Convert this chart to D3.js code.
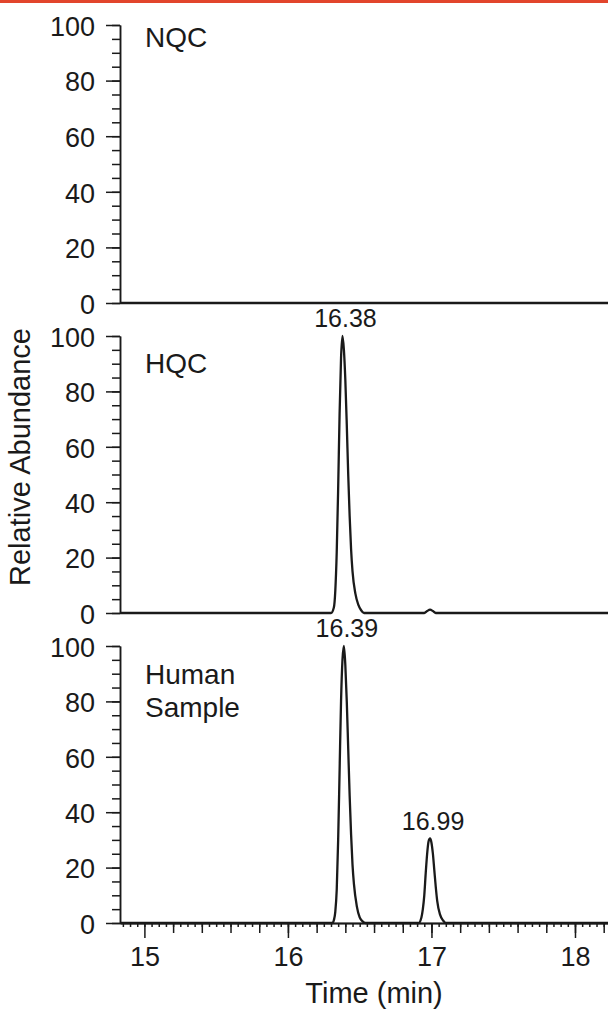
<!DOCTYPE html>
<html>
<head>
<meta charset="utf-8">
<script src="https://cdn.jsdelivr.net/npm/d3@7"></script>
<style>
  body { margin: 0; background: #fff; }
  text { font-family: "Liberation Sans", Arial, sans-serif; fill: #1a1a1a; }
</style>
</head>
<body>
<div id="chart"></div>
<script>
let w = 608;
let h = 1009;

// chromatogram traces: [time (min), relative abundance]
let nqcTrace = [[14.83, 0], [18.23, 0]];

let hqcTrace = [
  [14.83, 0], [16.30, 0], [16.32, 2], [16.33, 8], [16.34, 22], [16.35, 45],
  [16.36, 72], [16.37, 92], [16.38, 100], [16.39, 95], [16.40, 84], [16.41, 68],
  [16.42, 50], [16.43, 35], [16.44, 23], [16.45, 15], [16.47, 7], [16.49, 3],
  [16.51, 1], [16.53, 0], [16.95, 0], [16.97, 0.7], [16.99, 1.2], [17.01, 0.7],
  [17.03, 0], [18.23, 0]
];

let humanTrace = [
  [14.83, 0], [16.31, 0], [16.32, 1], [16.33, 4], [16.34, 12], [16.35, 30],
  [16.36, 55], [16.37, 80], [16.38, 95], [16.39, 100], [16.40, 93], [16.41, 80],
  [16.42, 63], [16.43, 46], [16.44, 32], [16.45, 21], [16.46, 14], [16.48, 6],
  [16.50, 2], [16.52, 0.6], [16.54, 0], [16.91, 0], [16.93, 2], [16.94, 5],
  [16.95, 10], [16.96, 18], [16.97, 25], [16.98, 29.5], [16.99, 30.5], [17.00, 29],
  [17.01, 25], [17.02, 19], [17.03, 13], [17.04, 8], [17.06, 3], [17.08, 1],
  [17.10, 0], [18.23, 0]
];

let panelNames = [["NQC"], ["HQC"], ["Human", "Sample"]];
let traces = [nqcTrace, hqcTrace, humanTrace];

// peak annotations: panel index, retention time, abundance
let peakLabels = [
  {panel: 1, t: 16.38, v: 100},
  {panel: 2, t: 16.39, v: 100},
  {panel: 2, t: 16.99, v: 30.5}
];

let xTicks = [15, 16, 17, 18];
let yTicks = [0, 20, 40, 60, 80, 100];

// layout
let panels = [
  {top: 25, bottom: 303, nameY: 47},
  {top: 336, bottom: 613, nameY: 373},
  {top: 646, bottom: 923, nameY: 684}
];

let svg = d3.select('#chart').
append('svg').
attr('width', w).
attr('height', h);

svg.append('rect').
attr('x', 0).attr('y', 0).
attr('width', w).attr('height', 3).
attr('fill', '#e2452c');

let x = d3.scaleLinear().
domain([14.83, 18.23]).
range([120, 608]);

panels.forEach(function (p, i) {
  let y = d3.scaleLinear().domain([0, 100]).range([p.bottom, p.top]);
  let g = svg.append('g');

  // minor y ticks
  g.append('g').
  attr('transform', 'translate(120,0)').
  call(d3.axisLeft(y).tickValues(d3.range(0, 101, 5)).tickSize(8).tickSizeOuter(0).tickFormat(''));

  // major y ticks with labels
  g.append('g').
  attr('transform', 'translate(120,0)').
  call(d3.axisLeft(y).tickValues(yTicks).tickSize(14).tickSizeOuter(0).tickPadding(11)).
  call(a => a.selectAll('text').attr('font-size', 27).attr('dy', '0.38em'));

  if (i === 2) {
    let base = svg.append('g').attr('transform', 'translate(0,' + p.bottom + ')');
    base.append('g').
    call(d3.axisBottom(x).tickValues(d3.range(14.85, 18.23, 0.05)).tickSize(4).tickSizeOuter(0).tickFormat(''));
    base.append('g').
    call(d3.axisBottom(x).tickValues(d3.range(15.2, 18.23, 0.2)).tickSize(10).tickSizeOuter(0).tickFormat(''));
    base.append('g').
    call(d3.axisBottom(x).tickValues(xTicks).tickSize(15).tickSizeOuter(0).tickPadding(9).tickFormat(d3.format('d'))).
    call(a => a.selectAll('text').attr('font-size', 27));
  }

  let line = d3.line().
  x(d => x(d[0])).
  y(d => y(d[1])).
  curve(d3.curveMonotoneX);

  g.append('path').
  datum(traces[i]).
  attr('d', line).
  attr('fill', 'none').
  attr('stroke', '#1a1a1a').
  attr('stroke-width', 2.3).
  attr('stroke-linejoin', 'round');

  g.append('text').
  attr('x', 145).
  attr('y', p.nameY).
  attr('font-size', 28).
  selectAll('tspan').
  data(panelNames[i]).
  enter().
  append('tspan').
  attr('x', 145).
  attr('dy', (d, k) => k === 0 ? 0 : 33).
  text(d => d);

  peakLabels.filter(d => d.panel === i).forEach(function (d) {
    g.append('text').
    attr('x', x(d.t) + 3).
    attr('y', y(d.v) - 9).
    attr('text-anchor', 'middle').
    attr('font-size', 25).
    text(d.t.toFixed(2));
  });
});

svg.selectAll('.domain, .tick line').
attr('stroke', '#1a1a1a').
attr('stroke-width', 1.5);

svg.append('text').
attr('x', x(16.6)).
attr('y', 1003).
attr('text-anchor', 'middle').
attr('font-size', 29).
text('Time (min)');

svg.append('text').
attr('transform', 'translate(30,457) rotate(-90)').
attr('text-anchor', 'middle').
attr('font-size', 29).
text('Relative Abundance');
</script>
</body>
</html>
